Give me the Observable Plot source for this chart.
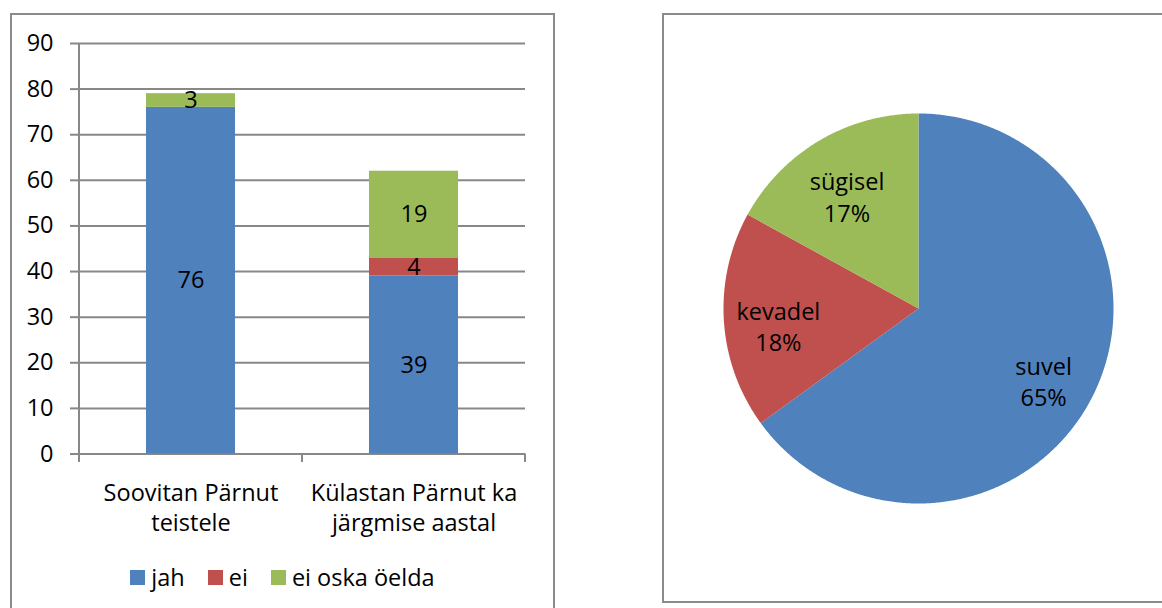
<!DOCTYPE html>
<html>
<head>
<meta charset="utf-8">
<script src="https://cdn.jsdelivr.net/npm/d3@7"></script>
<script src="https://cdn.jsdelivr.net/npm/@observablehq/plot@0.6"></script>
<style>
  body { margin: 0; background: #fff; font-family: "Open Sans", sans-serif; }
  #page { position: relative; width: 1162px; height: 608px; overflow: hidden; background: #fff; }
  .box { position: absolute; border: 2px solid #8a8a8a; box-sizing: border-box; }
  .panel { position: absolute; }
  #legend { position: absolute; left: 10px; top: 561px; width: 545px; height: 32px;
            display: flex; justify-content: center; align-items: center; gap: 23px;
            font-family: "Open Sans", sans-serif; font-size: 23.5px; color: #000; }
  #legend .item { display: flex; align-items: center; }
  #legend .sw { width: 15px; height: 15px; margin-right: 6px; }
</style>
</head>
<body>
<div id="page">
  <div class="box" style="left:10px; top:13px; width:545px; height:640px;"></div>
  <div class="box" style="left:662px; top:13px; width:540px; height:590px;"></div>
  <div id="bars" class="panel" style="left:0; top:0;"></div>
  <div id="pie" class="panel" style="left:662px; top:13px;"></div>
  <div id="legend"></div>
</div>
<script>
// ---- data ----
const categories = ["Soovitan Pärnut\nteistele", "Külastan Pärnut ka\njärgmise aastal"];
const series = ["jah", "ei", "ei oska öelda"];
const jah = [76, 39];
const ei = [0, 4];
const eiOskaOelda = [3, 19];
const yTicks = [0, 10, 20, 30, 40, 50, 60, 70, 80, 90];

const seasons = ["suvel", "kevadel", "sügisel"];
const seasonShares = [65, 18, 17];

const palette = ["#4F81BD", "#C0504D", "#9BBB59"];

// ---- bar chart ----
const seriesValues = [jah, ei, eiOskaOelda];
const barRows = [];
categories.forEach((c, i) => series.forEach((s, j) => barRows.push({category: c, series: s, value: seriesValues[j][i]})));

const axisLines = (index, {x, y}, values, dims) => {
  const g = d3.create("svg:g").attr("stroke", "#888").attr("stroke-width", 2).attr("fill", "none");
  const edges = [...categories.map(c => x(c)), dims.width - dims.marginRight];
  const y0 = y(0);
  g.append("line").attr("x1", edges[0]).attr("x2", edges[0]).attr("y1", y(yTicks[yTicks.length - 1])).attr("y2", y0);
  edges.forEach(e => g.append("line").attr("x1", e).attr("x2", e).attr("y1", y0).attr("y2", y0 + 8.5));
  return g.node();
};

const FS = 23.5;

const bars = Plot.plot({
  width: 560,
  height: 608,
  marginLeft: 79,
  marginRight: 35,
  marginTop: 43,
  marginBottom: 154.5,
  style: {fontFamily: "Open Sans, sans-serif", fontSize: FS + "px", color: "#000", background: "transparent", overflow: "visible"},
  x: {domain: categories, padding: 0, axis: null},
  y: {domain: [0, 90], axis: null},
  color: {domain: series, range: palette},
  marks: [
    Plot.ruleY(yTicks, {stroke: "#888", strokeWidth: 2}),
    Plot.axisY(yTicks, {tickSize: 9, tickPadding: 17, stroke: "#888", strokeWidth: 2, fill: "#000", label: null, fontSize: FS}),
    Plot.barY(barRows, {x: "category", y: "value", fill: "series", insetLeft: 67, insetRight: 67}),
    Plot.text(barRows.filter(d => d.value > 0), Plot.stackY({x: "category", y: "value", z: "series", text: d => String(d.value), fill: "#000", fontSize: FS})),
    Plot.text(categories, {x: d => d, text: d => d, frameAnchor: "bottom", lineAnchor: "top", dy: 25, lineHeight: 1.3, fill: "#000", fontSize: FS}),
    axisLines
  ]
});
document.getElementById("bars").append(bars);

// ---- legend ----
const legend = document.getElementById("legend");
series.forEach((s, i) => {
  const item = document.createElement("div");
  item.className = "item";
  const sw = document.createElement("span");
  sw.className = "sw";
  sw.style.background = palette[i];
  const t = document.createElement("span");
  t.textContent = s;
  item.append(sw, t);
  legend.append(item);
});

// ---- pie chart ----
const seasonRows = seasons.map((s, i) => ({season: s, share: seasonShares[i]}));
const arcs = d3.pie().sort(null).value(d => d.share)(seasonRows);
const wedgePoints = [];
const labelRows = [];
for (const a of arcs) {
  const s = a.data.season;
  const n = Math.max(2, Math.ceil((a.endAngle - a.startAngle) / (Math.PI / 360)));
  wedgePoints.push({season: s, px: 0, py: 0});
  for (let k = 0; k <= n; k++) {
    const t = a.startAngle + (a.endAngle - a.startAngle) * k / n;
    wedgePoints.push({season: s, px: Math.sin(t), py: Math.cos(t)});
  }
  wedgePoints.push({season: s, px: 0, py: 0});
  const mid = (a.startAngle + a.endAngle) / 2;
  labelRows.push({season: s, px: 0.72 * Math.sin(mid), py: 0.72 * Math.cos(mid), text: `${s}\n${a.data.share}%`});
}

const pie = Plot.plot({
  width: 500,
  height: 589,
  marginLeft: 61,
  marginRight: 49,
  marginTop: 100,
  marginBottom: 99,
  style: {fontFamily: "Open Sans, sans-serif", fontSize: FS + "px", color: "#000", background: "transparent"},
  x: {domain: [-1, 1], axis: null},
  y: {domain: [-1, 1], axis: null},
  color: {domain: seasons, range: palette},
  marks: [
    Plot.line(wedgePoints, {x: "px", y: "py", z: "season", fill: "season", stroke: "none", curve: "linear"}),
    Plot.text(labelRows, {x: "px", y: "py", text: "text", lineHeight: 1.35, dy: 8, fill: "#000", fontSize: FS})
  ]
});
document.getElementById("pie").append(pie);
</script>
</body>
</html>
